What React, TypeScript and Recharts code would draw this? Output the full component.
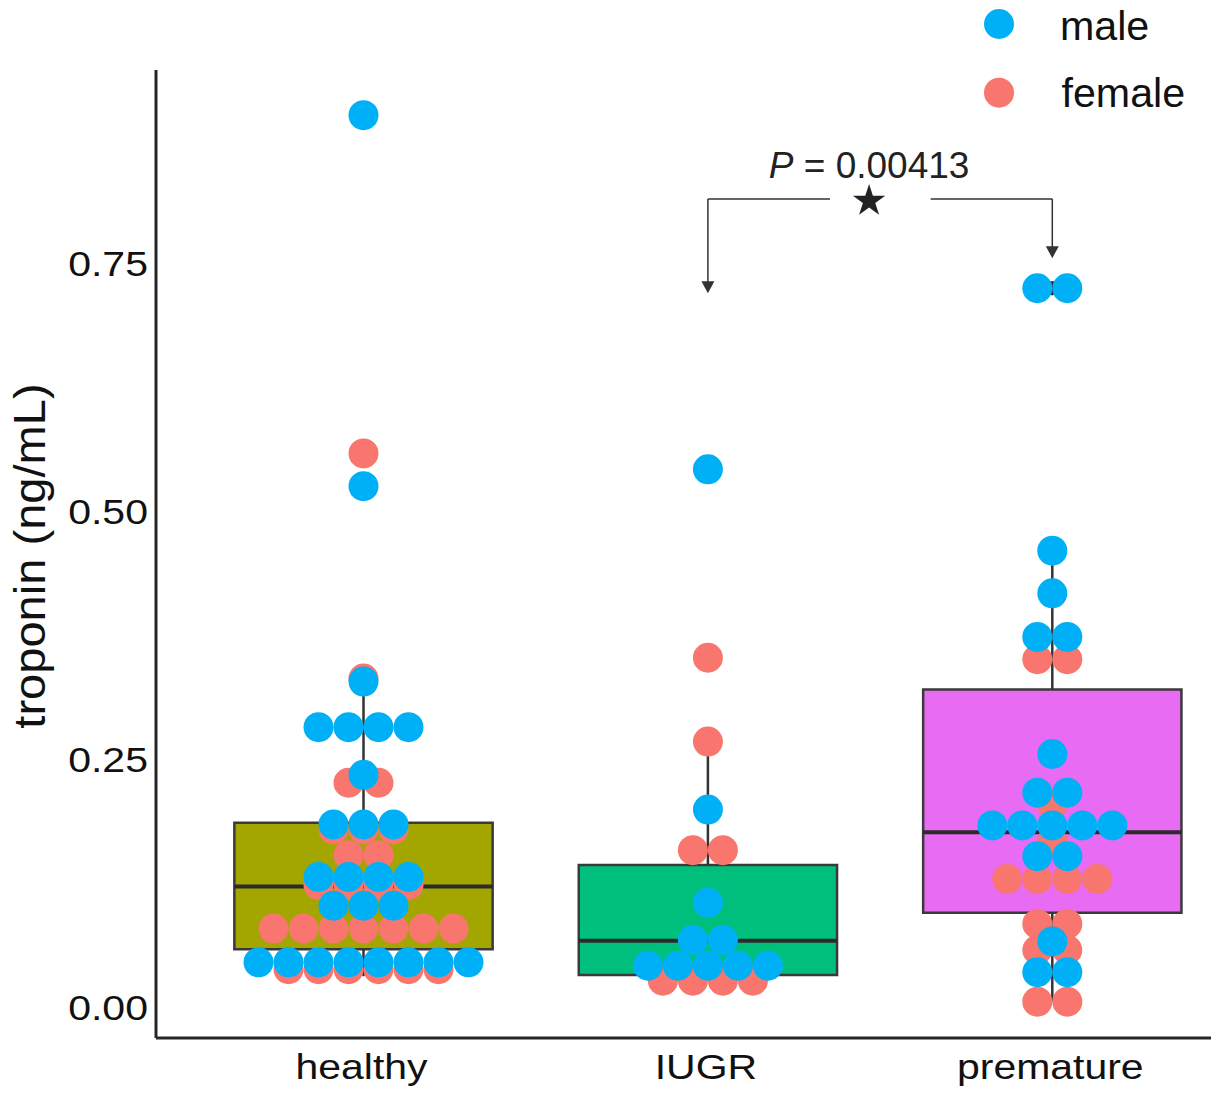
import React from 'react';
import {
  ComposedChart,
  XAxis,
  YAxis,
  Scatter,
  ReferenceArea,
  ReferenceLine,
  ReferenceDot,
  Legend
} from 'recharts';

const CATEGORIES = ['healthy', 'IUGR', 'premature'];
const BOX_COLORS = ['#A3A500', '#00BF7D', '#E76BF3'];
const MALE_COLOR = '#00B0F6';
const FEMALE_COLOR = '#F8766D';
const LEGEND_ITEMS = [
  { label: 'male', color: MALE_COLOR },
  { label: 'female', color: FEMALE_COLOR }
];

// box statistics (per category)
const Q1 = [0.0561, 0.0302, 0.093];
const MEDIAN = [0.1193, 0.0648, 0.174];
const Q3 = [0.1838, 0.1411, 0.318];
const WHISKER_LOW = [0.029, 0.0245, 0.0033];
const WHISKER_HIGH = [0.329, 0.2655, 0.458];

// troponin values (ng/mL)
const HEALTHY_MALE = [
  0.897, 0.523, 0.326, 0.28, 0.28, 0.28, 0.28, 0.232, 0.182, 0.182, 0.182,
  0.129, 0.129, 0.129, 0.129, 0.1, 0.1, 0.1,
  0.043, 0.043, 0.043, 0.043, 0.043, 0.043, 0.043, 0.043
];
const HEALTHY_FEMALE = [
  0.556, 0.329, 0.224, 0.224, 0.177, 0.177, 0.177, 0.151, 0.151,
  0.121, 0.121, 0.121, 0.121, 0.077, 0.077, 0.077, 0.077, 0.077, 0.077, 0.077,
  0.036, 0.036, 0.036, 0.036, 0.036, 0.036
];
const IUGR_MALE = [0.54, 0.197, 0.103, 0.0655, 0.0655, 0.0396, 0.0396, 0.0396, 0.0396, 0.0396];
const IUGR_FEMALE = [0.35, 0.2655, 0.156, 0.156, 0.0245, 0.0245, 0.0245, 0.0245];
const PREMATURE_MALE = [
  0.7225, 0.7225, 0.458, 0.415, 0.371, 0.371, 0.253, 0.214, 0.214,
  0.181, 0.181, 0.181, 0.181, 0.181, 0.15, 0.15, 0.064, 0.033, 0.033
];
const PREMATURE_FEMALE = [
  0.3485, 0.3485, 0.2016, 0.1646, 0.127, 0.127, 0.127, 0.127,
  0.0817, 0.0817, 0.0554, 0.0554, 0.0033, 0.0033
];

const Y_TICKS = [0, 0.25, 0.5, 0.75];
const P_LABEL = '0.00413';

const X_MIN = -0.6025;
const X_MAX = 2.4608;
const Y_MIN = -0.0333;
const Y_MAX = 0.9425;
const BOX_HALF = 0.375;
const SWARM_STEP = 0.0871;
const FONT = '"Liberation Sans", Arial, Helvetica, sans-serif';

// spread identical values side by side, centred on the category
function swarm(values: number[], cat: number) {
  const counts = new Map<number, number>();
  values.forEach(v => counts.set(v, (counts.get(v) || 0) + 1));
  const seen = new Map<number, number>();
  return values.map(v => {
    const n = counts.get(v) as number;
    const k = seen.get(v) || 0;
    seen.set(v, k + 1);
    return { x: cat + (k - (n - 1) / 2) * SWARM_STEP, y: v };
  });
}

const maleGroups = [HEALTHY_MALE, IUGR_MALE, PREMATURE_MALE];
const femaleGroups = [HEALTHY_FEMALE, IUGR_FEMALE, PREMATURE_FEMALE];

const malePoints = maleGroups.flatMap((vals, i) => swarm(vals, i));
const femalePoints = femaleGroups.flatMap((vals, i) => swarm(vals, i));
const fliers = CATEGORIES.flatMap((_, i) =>
  [...maleGroups[i], ...femaleGroups[i]]
    .filter(v => v > WHISKER_HIGH[i] || v < WHISKER_LOW[i])
    .map(v => ({ x: i, y: v }))
);

// significance bracket between IUGR and premature
const BRACKET_Y = 0.8125;
const BRACKET_GAP = [1.3545, 1.6469];
const STAR_X = 1.468;
const ARROW_TIPS = [0.7174, 0.7528];

const dot = (color: string, r: number) => (props: any) => (
  <circle cx={props.cx} cy={props.cy} r={r} fill={color} />
);

const XTick = (props: any) => {
  const { x, y, payload } = props;
  return (
    <g transform={`translate(${x - 2},${y + 41}) scale(1.17,1)`}>
      <text x={0} y={0} textAnchor="middle" fontSize={35} fontFamily={FONT} fill="#111">
        {CATEGORIES[payload.value]}
      </text>
    </g>
  );
};

const YTick = (props: any) => {
  const { x, y, payload } = props;
  return (
    <g transform={`translate(${x - 8},${y + 15}) scale(1.14,1)`}>
      <text x={0} y={0} textAnchor="end" fontSize={36} fontFamily={FONT} fill="#111">
        {Number(payload.value).toFixed(2)}
      </text>
    </g>
  );
};

const YLabel = (props: any) => {
  const vb = props.viewBox;
  const cy = vb.y + vb.height / 2 + 2;
  return (
    <g transform={`translate(45,${cy}) rotate(-90) scale(1.07,1)`}>
      <text x={0} y={0} textAnchor="middle" fontSize={44} fontFamily={FONT} fill="#111">
        troponin (ng/mL)
      </text>
    </g>
  );
};

const arrowDown = (props: any) => (
  <polygon
    points={`${props.cx - 6.5},${props.cy - 12} ${props.cx + 6.5},${props.cy - 12} ${props.cx},${props.cy}`}
    fill="#333"
  />
);

const starShape = (props: any) => {
  const pts: string[] = [];
  for (let k = 0; k < 10; k++) {
    const r = k % 2 === 0 ? 17 : 6.5;
    const a = -Math.PI / 2 + (k * Math.PI) / 5;
    pts.push(`${props.cx + r * Math.cos(a)},${props.cy + 2 + r * Math.sin(a)}`);
  }
  return (
    <g>
      <polygon points={pts.join(' ')} fill="#222" />
      <text x={props.cx} y={props.cy - 21} textAnchor="middle" fontSize={37} fontFamily={FONT} fill="#222">
        <tspan fontStyle="italic">P</tspan> = {P_LABEL}
      </text>
    </g>
  );
};

const LegendContent = () => (
  <svg width={261} height={125}>
    {LEGEND_ITEMS.map((item, i) => (
      <g key={item.label}>
        <circle cx={49} cy={24 + i * 68.7} r={15} fill={item.color} />
        <g transform={`translate(${110 + i * 1.5},${40 + i * 67.3}) scale(1.03,1)`}>
          <text x={0} y={0} fontSize={40} fontFamily={FONT} fill="#111">
            {item.label}
          </text>
        </g>
      </g>
    ))}
  </svg>
);

export default function App() {
  return (
    <div style={{ position: 'absolute', left: 0, top: 0, width: 1211, height: 1093, background: '#fff' }}>
      <ComposedChart width={1211} height={1093} margin={{ top: 70, right: 0, bottom: 0, left: 0 }}>
        <XAxis
          type="number"
          dataKey="x"
          domain={[X_MIN, X_MAX]}
          allowDataOverflow
          ticks={[0, 1, 2]}
          height={55}
          tickSize={0}
          tickMargin={0}
          tickLine={false}
          axisLine={{ stroke: '#262626', strokeWidth: 3 }}
          tick={<XTick />}
        />
        <YAxis
          type="number"
          dataKey="y"
          domain={[Y_MIN, Y_MAX]}
          allowDataOverflow
          ticks={Y_TICKS}
          width={156}
          tickSize={0}
          tickMargin={0}
          tickLine={false}
          axisLine={{ stroke: '#262626', strokeWidth: 3 }}
          tick={<YTick />}
          label={<YLabel />}
        />
        <Legend
          layout="vertical"
          align="center"
          verticalAlign="middle"
          wrapperStyle={{ position: 'absolute', left: 950, top: 0, width: 261, height: 125 }}
          content={<LegendContent />}
        />

        {CATEGORIES.map((c, i) => (
          <ReferenceLine
            key={`wh-${c}`}
            segment={[{ x: i, y: Q3[i] }, { x: i, y: WHISKER_HIGH[i] }]}
            stroke="#333"
            strokeWidth={2.5}
          />
        ))}
        {CATEGORIES.map((c, i) => (
          <ReferenceLine
            key={`wl-${c}`}
            segment={[{ x: i, y: Q1[i] }, { x: i, y: WHISKER_LOW[i] }]}
            stroke="#333"
            strokeWidth={2.5}
          />
        ))}
        {CATEGORIES.map((c, i) => (
          <ReferenceArea
            key={`box-${c}`}
            x1={i - BOX_HALF}
            x2={i + BOX_HALF}
            y1={Q1[i]}
            y2={Q3[i]}
            fill={BOX_COLORS[i]}
            fillOpacity={1}
            stroke="#3a3a3a"
            strokeWidth={2.5}
          />
        ))}
        {CATEGORIES.map((c, i) => (
          <ReferenceLine
            key={`med-${c}`}
            segment={[{ x: i - BOX_HALF, y: MEDIAN[i] }, { x: i + BOX_HALF, y: MEDIAN[i] }]}
            stroke="#2b2b2b"
            strokeWidth={4}
          />
        ))}

        <ReferenceLine segment={[{ x: 1, y: BRACKET_Y }, { x: BRACKET_GAP[0], y: BRACKET_Y }]} stroke="#333" strokeWidth={1.5} />
        <ReferenceLine segment={[{ x: BRACKET_GAP[1], y: BRACKET_Y }, { x: 2, y: BRACKET_Y }]} stroke="#333" strokeWidth={1.5} />
        <ReferenceLine segment={[{ x: 1, y: BRACKET_Y }, { x: 1, y: ARROW_TIPS[0] + 0.008 }]} stroke="#333" strokeWidth={1.5} />
        <ReferenceLine segment={[{ x: 2, y: BRACKET_Y }, { x: 2, y: ARROW_TIPS[1] + 0.008 }]} stroke="#333" strokeWidth={1.5} />
        <ReferenceDot x={1} y={ARROW_TIPS[0]} shape={arrowDown} />
        <ReferenceDot x={2} y={ARROW_TIPS[1]} shape={arrowDown} />
        <ReferenceDot x={STAR_X} y={BRACKET_Y} shape={starShape} />

        <Scatter name="outlier" data={fliers} dataKey="y" shape={dot('#333', 7)} isAnimationActive={false} legendType="none" />
        <Scatter name="female" data={femalePoints} dataKey="y" shape={dot(FEMALE_COLOR, 15)} isAnimationActive={false} />
        <Scatter name="male" data={malePoints} dataKey="y" shape={dot(MALE_COLOR, 15)} isAnimationActive={false} />
      </ComposedChart>
    </div>
  );
}
